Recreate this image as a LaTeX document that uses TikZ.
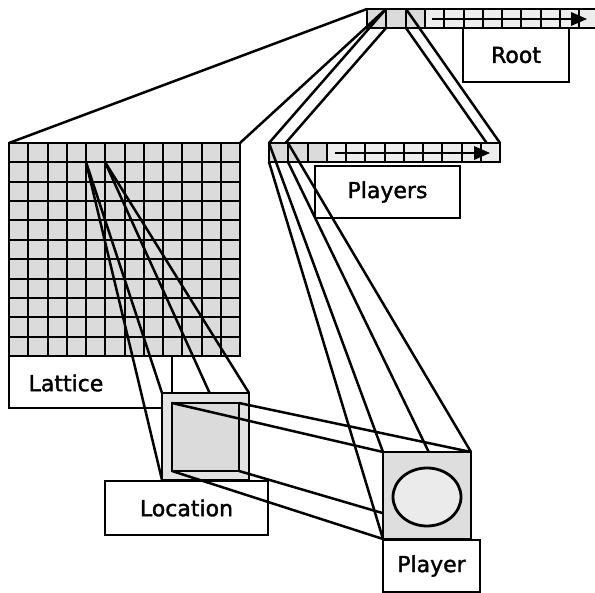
\documentclass[tikz,border=0pt]{standalone}
\usepackage{fontspec}
\setmainfont{DejaVu Sans}[FakeBold=1.6]
\usetikzlibrary{shapes.geometric}
\begin{document}
\begin{tikzpicture}[x=1pt,y=-1pt,
  cellfill/.style={fill=black!14},
  lightfill/.style={fill=black!7},
  boxbase/.style={draw, line width=2.2pt, anchor=north west, inner sep=0pt, outer sep=0pt},
  lbl/.style={boxbase, font=\fontsize{22}{26}\selectfont},
  txt/.style={font=\fontsize{22}{26}\selectfont, inner sep=0pt},
  proj/.style={line width=2.5pt},
  gridline/.style={line width=2.4pt},
  arrowshaft/.style={line width=2.5pt},
]
\useasboundingbox (0,0) rectangle (595,593);
\clip (0,0) rectangle (595,593);

% ---------------- Root array ----------------
\node[boxbase, lightfill, minimum width=240pt, minimum height=19pt] (root) at (367,9) {};
\fill[black!14] (367,9) rectangle (425,28);
\foreach \i in {1,...,12} \draw[gridline] ({round(367+19.3*\i)},9) -- ({round(367+19.3*\i)},28);
\draw[line width=2.5pt] (root.north west) rectangle ++(240,19);
\coordinate (rootarrA) at (432,19);
\coordinate (rootarrB) at (572,19);
\draw[arrowshaft] (rootarrA) -- (rootarrB);
\fill (571,12) -- (587,19) -- (571,26) -- cycle;
\node[lbl, minimum width=106pt, minimum height=54pt] (rootlbl) at (463,28) {Root};

\coordinate (r1tl) at (367,9);
\coordinate (r1tr) at (386,9);
\coordinate (r1br) at (386,28);
\coordinate (r2tr) at (406,9);
\coordinate (r2br) at (406,28);

\coordinate (latNW) at (9,143);
\coordinate (latNE) at (240,143);
\coordinate (plNW) at (269,143);
\coordinate (plSW) at (269,162);
\coordinate (plNE) at (500,143);
\coordinate (plSE) at (500,162);

% Root -> Lattice / Players
\draw[proj] (r1tl) -- (latNW);
\draw[proj] (r1tr) -- (latNE);
\draw[proj] (r1tr) -- (plNW);
\draw[proj] (r1br) -- (plSW);
\draw[proj] (r2tr) -- (plNE);
\draw[proj] (r2br) -- (plSE);

% ---------------- Lattice ----------------
\node[boxbase, cellfill, line width=2.5pt, minimum width=231pt, minimum height=213pt] (lattice) at (9,143) {};
\foreach \i in {1,...,11} \draw[gridline] ({round(9+19.25*\i)},143) -- ({round(9+19.25*\i)},356);
\foreach \j in {1,...,10} \draw[gridline] (9,{round(143+19.36*\j)}) -- (240,{round(143+19.36*\j)});
\draw[line width=2.5pt] (lattice.north west) rectangle (lattice.south east);

% ---------------- Players array ----------------
\node[boxbase, lightfill, minimum width=231pt, minimum height=19pt] (players) at (269,143) {};
\fill[black!14] (269,143) rectangle (327,162);
\foreach \i in {1,...,11} \draw[gridline] ({round(269+19.25*\i)},143) -- ({round(269+19.25*\i)},162);
\draw[line width=2.5pt] (players.north west) rectangle (players.south east);
\coordinate (plarrA) at (335,153);
\coordinate (plarrB) at (476,153);
\draw[arrowshaft] (plarrA) -- (plarrB);
\fill (474,146) -- (490,153) -- (474,160) -- cycle;

% labels
\node[lbl, minimum width=145pt, minimum height=52pt] (playerslbl) at (315,166) {Players};
\node[boxbase, minimum width=163pt, minimum height=52pt] (latticelbl) at (9,356) {};
\node[txt] (latticetxt) at (66,383) {Lattice};

\coordinate (lctl) at (86,162);
\coordinate (lctr) at (105,162);
\coordinate (p1tr) at (288,143);
\coordinate (p1br) at (288,162);

\node[boxbase, minimum width=87pt, minimum height=87pt, draw=none] (locout) at (162,393) {};
\node[boxbase, minimum width=88pt, minimum height=87pt, draw=none] (plbox) at (383,452) {};

% Lattice cell -> Location
\draw[proj] (lctl) -- (locout.north west);
\draw[proj] (lctl) -- (locout.south west);
\draw[proj] (lctr) -- (locout.north east);
\draw[proj] (lctr) -- (locout.south east);

% Players cell -> Player
\draw[proj] (plNW) -- (plbox.north west);
\draw[proj] (plSW) -- (plbox.south west);
\draw[proj] (p1tr) -- (plbox.north east);
\draw[proj] (p1br) -- (plbox.south east);

% ---------------- Location ----------------
\node[boxbase, fill=black!11, minimum width=87pt, minimum height=87pt] (locoutbox) at (162,393) {};
\node[boxbase, fill=black!14, line width=2.8pt, minimum width=67pt, minimum height=68pt] (locin) at (172,403) {};

% Location -> Player
\draw[proj] (locin.north west) -- (plbox.north west);
\draw[proj] (locin.north east) -- (plbox.north east);
\draw[proj] (locin.south east) -- (plbox.south east);
\draw[proj] (locin.south west) -- (plbox.south west);

\node[lbl, minimum width=163pt, minimum height=54pt] (loclbl) at (105,481) {Location};

% ---------------- Player ----------------
\node[boxbase, fill=black!13, minimum width=88pt, minimum height=87pt] (plboxdraw) at (383,452) {};
\node[draw, line width=2.8pt, fill=black!8, ellipse, minimum width=68pt, minimum height=58pt, inner sep=0pt] (plcircle) at (427,497) {};
\node[lbl, minimum width=97pt, minimum height=52pt] (pllbl) at (383,540) {Player};
\end{tikzpicture}
\end{document}
